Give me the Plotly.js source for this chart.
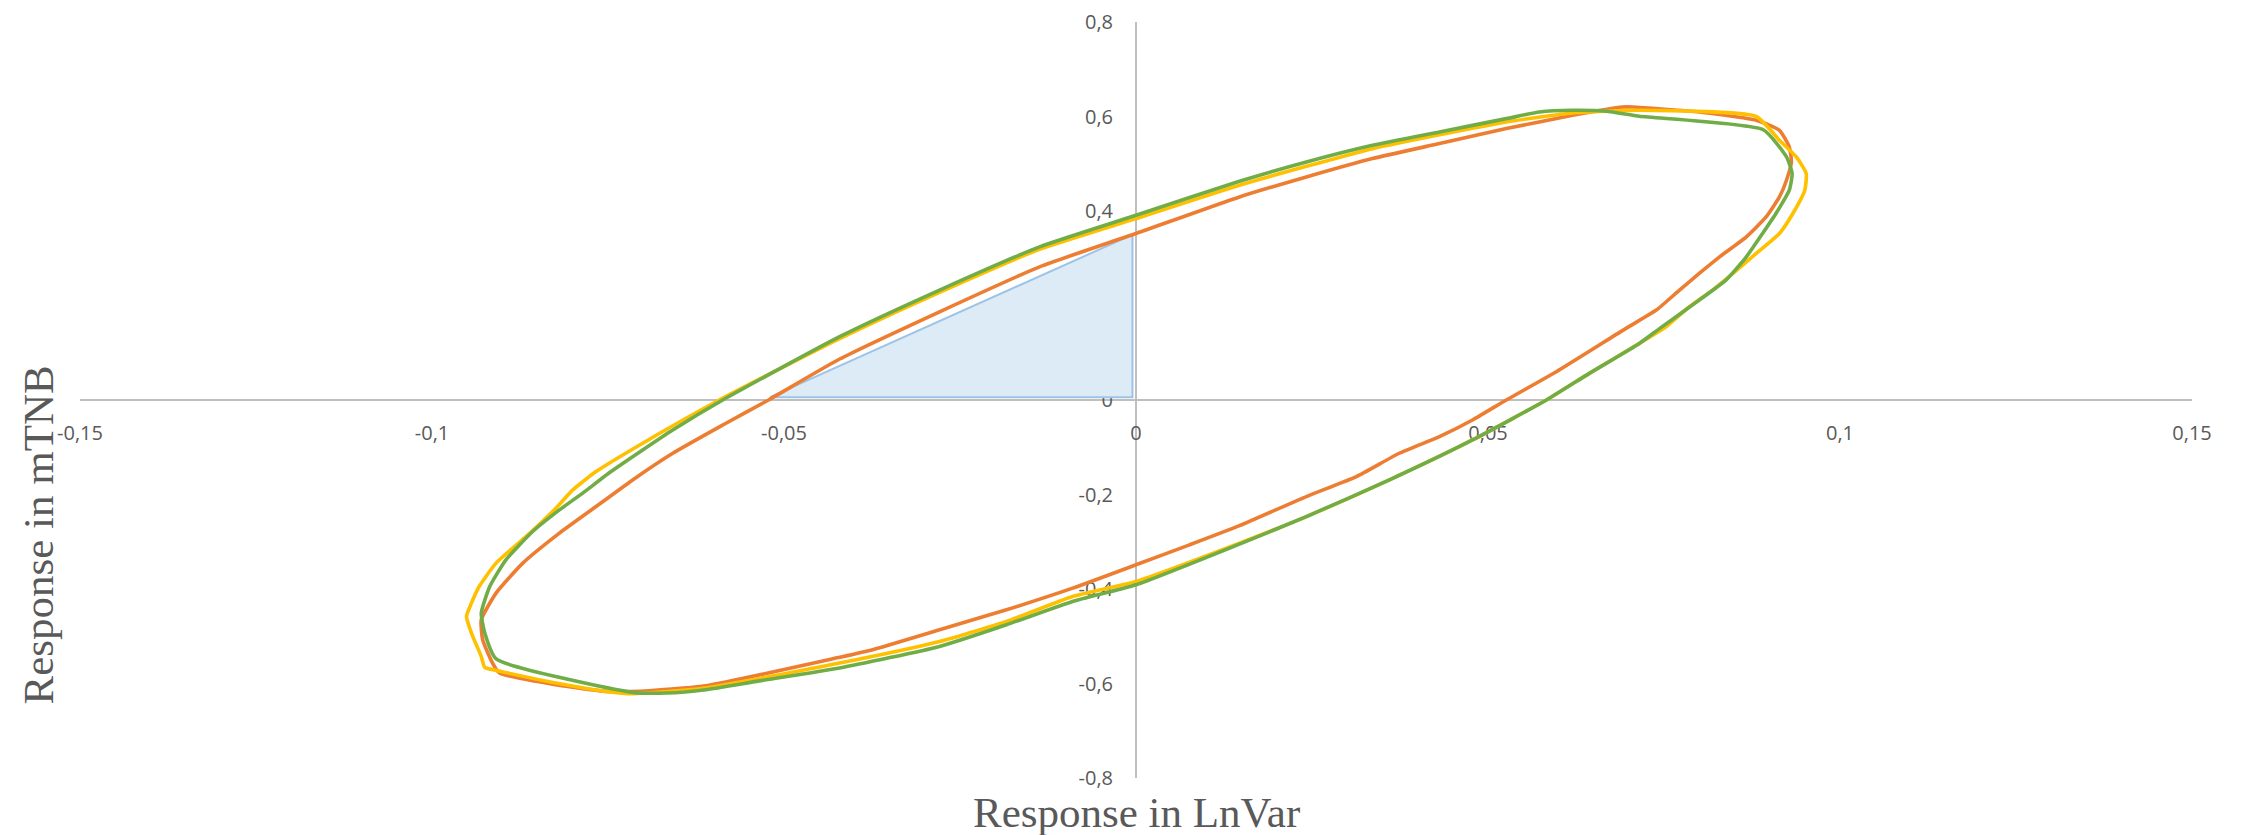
<!DOCTYPE html>
<html>
<head>
<meta charset="utf-8">
<script src="https://cdn.plot.ly/plotly-3.0.1.min.js"></script>
<style>html,body{margin:0;padding:0;background:#fff;}#chart{width:2244px;height:835px;}</style>
</head>
<body>
<div id="chart"></div>
<script>
// Shaded triangle (area under the response)
const triX = [-0.052, -0.0005, -0.0005, -0.052];
const triY = [0.006, 0.006, 0.35, 0.006];

// Orange loop
const orangeX = [0, 0.0147, 0.0242, 0.0336, 0.0431, 0.0526, 0.0620, 0.0691, 0.0706, 0.0800, 0.0881, 0.0914, 0.0928, 0.0931, 0.0924, 0.0914, 0.0895, 0.0867, 0.0829, 0.0800, 0.0772, 0.0739, 0.0696, 0.0597, 0.0526, 0.0478, 0.0431, 0.0374, 0.0313, 0.0242, 0.0147, 0.0076, 0, -0.0090, -0.0184, -0.0279, -0.0374, -0.0421, -0.0611, -0.0705, -0.0753, -0.0824, -0.0904, -0.0914, -0.0928, -0.0930, -0.0909, -0.0871, -0.0819, -0.0767, -0.0715, -0.0658, -0.0587, -0.0522, -0.0421, -0.0279, -0.0137, 0];
const orangeY = [0.3524, 0.4298, 0.4721, 0.5110, 0.5427, 0.5744, 0.6025, 0.6200, 0.6200, 0.6095, 0.5920, 0.5708, 0.5355, 0.5038, 0.4651, 0.4298, 0.3875, 0.3453, 0.3030, 0.2678, 0.2326, 0.1903, 0.1516, 0.0599, 0.0, -0.0423, -0.0775, -0.1127, -0.1621, -0.2044, -0.2660, -0.3066, -0.3488, -0.3982, -0.4440, -0.4863, -0.5285, -0.5445, -0.6047, -0.6166, -0.6166, -0.6025, -0.5778, -0.5567, -0.5074, -0.4651, -0.4087, -0.3453, -0.2818, -0.2255, -0.1691, -0.1127, -0.0529, 0.0, 0.0867, 0.1867, 0.2818, 0.3524];

// Yellow loop
const yellowX = [0, 0.0147, 0.0336, 0.0526, 0.0620, 0.0715, 0.0881, 0.0914, 0.0938, 0.0952, 0.0950, 0.0933, 0.0914, 0.0881, 0.0848, 0.0819, 0.0786, 0.0753, 0.0715, 0.0644, 0.0583, 0.0478, 0.0360, 0.0242, 0.0147, 0, -0.0090, -0.0184, -0.0279, -0.0421, -0.0611, -0.0715, -0.0753, -0.0824, -0.0902, -0.0925, -0.0930, -0.0944, -0.0951, -0.0944, -0.0933, -0.0909, -0.0861, -0.0824, -0.0800, -0.0767, -0.0705, -0.0592, -0.0421, -0.0279, -0.0137, 0];
const yellowY = [0.3840, 0.4545, 0.5320, 0.5884, 0.6074, 0.6131, 0.6000, 0.5497, 0.5144, 0.4793, 0.4440, 0.3947, 0.3524, 0.3101, 0.2678, 0.2326, 0.1973, 0.1550, 0.1198, 0.0564, 0.0, -0.0846, -0.1691, -0.2467, -0.3030, -0.3841, -0.4158, -0.4687, -0.5110, -0.5567, -0.6095, -0.6216, -0.6166, -0.5990, -0.5744, -0.5660, -0.5430, -0.4933, -0.4581, -0.4299, -0.3947, -0.3453, -0.2818, -0.2290, -0.1903, -0.1515, -0.0951, 0.0, 0.1300, 0.2280, 0.3190, 0.3840];

// Green loop
const greenX = [0, 0.0147, 0.0242, 0.0336, 0.0431, 0.0526, 0.0573, 0.0620, 0.0668, 0.0715, 0.0891, 0.0924, 0.0932, 0.0928, 0.0909, 0.0890, 0.0867, 0.0838, 0.0800, 0.0744, 0.0715, 0.0644, 0.0583, 0.0478, 0.0360, 0.0242, 0.0147, 0, -0.0090, -0.0184, -0.0279, -0.0421, -0.0539, -0.0611, -0.0667, -0.0715, -0.0909, -0.0925, -0.0930, -0.0918, -0.0895, -0.0857, -0.0819, -0.0785, -0.0750, -0.0705, -0.0658, -0.0587, -0.0421, -0.0279, -0.0137, 0];
const greenY = [0.3910, 0.4630, 0.5038, 0.5391, 0.5673, 0.5955, 0.6095, 0.6131, 0.6110, 0.6004, 0.5720, 0.5144, 0.4793, 0.4440, 0.3947, 0.3524, 0.3030, 0.2537, 0.2114, 0.1516, 0.1198, 0.0564, 0.0, -0.0846, -0.1691, -0.2467, -0.3050, -0.3911, -0.4264, -0.4757, -0.5215, -0.5673, -0.5955, -0.6131, -0.6201, -0.6188, -0.5480, -0.4933, -0.4510, -0.3947, -0.3383, -0.2784, -0.2326, -0.1960, -0.1560, -0.1100, -0.0634, 0.0, 0.1339, 0.2326, 0.3242, 0.3910];

// Axis ticks
const xTickVals = [-0.15, -0.1, -0.05, 0, 0.05, 0.1, 0.15];
const xTickText = ["-0,15", "-0,1", "-0,05", "0", "0,05", "0,1", "0,15"];
const yTickVals = [-0.8, -0.6, -0.4, -0.2, 0, 0.2, 0.4, 0.6, 0.8];
const yTickText = ["-0,8", "-0,6", "-0,4", "-0,2", "0", "0,2", "0,4", "0,6", "0,8"];

const xTitle = "Response in LnVar";
const yTitle = "Response in mTNB";

const curveLine = (c) => ({color: c, width: 3.6, shape: 'spline', smoothing: 0.5});

const traces = [
  {x: triX, y: triY, mode: 'lines', fill: 'toself', fillcolor: '#DDEBF7',
   line: {color: '#9DC3E6', width: 2}, hoverinfo: 'skip', showlegend: false},
  {x: orangeX, y: orangeY, mode: 'lines', line: curveLine('#ED7D31'), showlegend: false},
  {x: yellowX, y: yellowY, mode: 'lines', line: curveLine('#FFC000'), showlegend: false},
  {x: greenX, y: greenY, mode: 'lines', line: curveLine('#70AD47'), showlegend: false}
];

const tickFont = {family: 'Open Sans, sans-serif', size: 20, color: '#595959'};
const titleFont = {family: 'Liberation Serif, Times New Roman, serif', size: 43, color: '#595959'};

const layout = {
  width: 2244, height: 835,
  margin: {l: 80, r: 52, t: 22, b: 57},
  paper_bgcolor: '#ffffff', plot_bgcolor: '#ffffff',
  showlegend: false,
  xaxis: {
    range: [-0.15, 0.15], anchor: 'free', position: 0.5,
    showgrid: false, zeroline: false, showline: true, linecolor: '#BFBFBF', linewidth: 2,
    tickmode: 'array', tickvals: xTickVals, ticktext: xTickText,
    ticks: '', ticklabelstandoff: 15, tickfont: tickFont, layer: 'below traces'
  },
  yaxis: {
    range: [-0.8, 0.8], anchor: 'free', position: 0.5,
    showgrid: false, zeroline: false, showline: true, linecolor: '#BFBFBF', linewidth: 2,
    tickmode: 'array', tickvals: yTickVals, ticktext: yTickText,
    ticks: '', ticklabelstandoff: 18, tickfont: tickFont, layer: 'below traces'
  },
  annotations: [
    {text: xTitle, xref: 'paper', yref: 'paper', x: 0.5, y: -0.046,
     xanchor: 'center', yanchor: 'middle', showarrow: false, font: titleFont},
    {text: yTitle, xref: 'paper', yref: 'paper', x: -0.0196, y: 0.3216,
     xanchor: 'center', yanchor: 'middle', textangle: -90, showarrow: false, font: titleFont}
  ]
};

Plotly.newPlot('chart', traces, layout, {displayModeBar: false, staticPlot: true});
</script>
</body>
</html>
